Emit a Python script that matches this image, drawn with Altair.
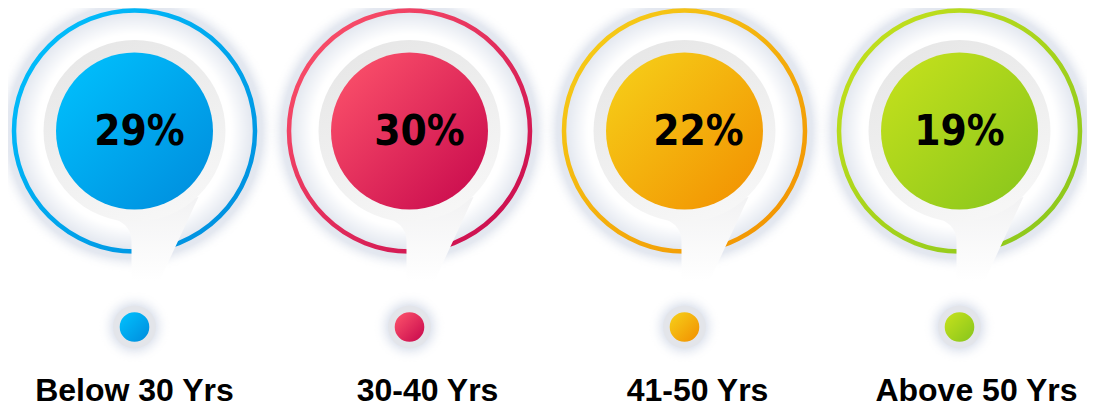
import altair as alt
import pandas as pd

# ---- data ----
categories = ["Below 30 Yrs", "30-40 Yrs", "41-50 Yrs", "Above 50 Yrs"]
percents = [29, 30, 22, 19]
light_colors = ["#00c3ff", "#ff566c", "#f6d21a", "#c8e21c"]
dark_colors = ["#008bdc", "#c6064c", "#f28e00", "#86c51c"]

# style offsets (text nudges, px)
pct_dx = [5, 10, 14, 0]
label_dx = [0, 18, 13, 17]

df = pd.DataFrame({
    "idx": list(range(len(categories))),
    "label": categories,
    "pct": [f"{p}%" for p in percents],
})

W, H = 1079, 399
xscale = alt.Scale(domain=[-126.5 / 275, (W - 126.5) / 275], nice=False, zero=False)
X = alt.X("idx:Q", scale=xscale, axis=None)

CY = 123     # big circle center (px)
DY = 319     # small dot center (px)
LY = 393     # label baseline (px)


def sz(r):
    return (2 * r) ** 2


def lin(c1, c2, x1=0, y1=0, x2=1, y2=1):
    return alt.LinearGradient(
        gradient="linear",
        stops=[alt.GradientStop(color=c1, offset=0), alt.GradientStop(color=c2, offset=1)],
        x1=x1, y1=y1, x2=x2, y2=y2,
    )


def radial(stops):
    return alt.RadialGradient(
        gradient="radial",
        stops=[alt.GradientStop(color=c, offset=o) for o, c in stops],
        x1=0.5, y1=0.5, r1=0, x2=0.5, y2=0.5, r2=0.5,
    )


base = alt.Chart(df)

glow = radial([(0, "#ffffff"), (0.68, "#ffffff"), (0.85, "#e0e5ee"),
               (0.90, "#e4e8f0"), (1.0, "rgba(255,255,255,0)")])
dot_glow = radial([(0, "#ffffff"), (0.5, "#dde2ec"), (0.62, "#e6eaf2"),
                   (1.0, "rgba(255,255,255,0)")])
gray_fill = lin("#e7e7e7", "#f7f7f7", 0.3, 0, 0.7, 1)
tail_fill = lin("#f2f2f3", "#ffffff", 0, 0, 0, 1)
tail_path = ("M -0.32 0.84 Q -0.03 0.9 -0.03 1.1 L -0.03 1.5 L 0.25 1.5 "
             "L 0.64 0.66 Z")

layers_glow, layers_ring, layers_tail, layers_gray, layers_disk = [], [], [], [], []
layers_pct, layers_dotglow, layers_halo, layers_dot, layers_lab = [], [], [], [], []

for i in range(len(categories)):
    b = base.transform_filter(alt.datum.idx == i)
    grad = lin(light_colors[i], dark_colors[i])
    layers_glow.append(
        b.mark_point(shape="circle", filled=True, fill=glow, strokeWidth=0, opacity=1, size=sz(142))
        .encode(x=X, y=alt.value(CY)))
    layers_ring.append(
        b.mark_point(shape="circle", filled=False, fill="transparent",
                     stroke=grad, strokeWidth=4.5, opacity=1, size=sz(120.5))
        .encode(x=X, y=alt.value(CY)))
    layers_tail.append(
        b.mark_point(shape=tail_path, filled=True, fill=tail_fill, strokeWidth=0,
                     opacity=1, size=sz(100))
        .encode(x=X, y=alt.value(CY)))
    layers_gray.append(
        b.mark_point(shape="circle", filled=True, fill=gray_fill, strokeWidth=0,
                     opacity=1, size=sz(91))
        .encode(x=X, y=alt.value(CY)))
    layers_disk.append(
        b.mark_point(shape="circle", filled=True, fill=grad,
                     strokeWidth=0, opacity=1, size=sz(78.5))
        .encode(x=X, y=alt.value(CY)))
    layers_pct.append(
        b.mark_text(font="DejaVu Sans Condensed", fontWeight="bold", fontSize=42,
                    color="#000000", baseline="alphabetic", align="center", dx=pct_dx[i])
        .encode(x=X, y=alt.value(CY + 14), text="pct:N"))
    layers_dotglow.append(
        b.mark_point(shape="circle", filled=True, fill=dot_glow, strokeWidth=0,
                     opacity=1, size=sz(36))
        .encode(x=X, y=alt.value(DY)))
    layers_halo.append(
        b.mark_point(shape="circle", filled=True, fill="#e3e5ea", strokeWidth=0,
                     opacity=1, size=sz(21.5))
        .encode(x=X, y=alt.value(DY)))
    layers_dot.append(
        b.mark_point(shape="circle", filled=True, fill=grad,
                     strokeWidth=0, opacity=1, size=sz(14.8))
        .encode(x=X, y=alt.value(DY)))
    layers_lab.append(
        b.mark_text(font="Liberation Sans", fontWeight="bold", fontSize=32,
                    color="#000000", baseline="alphabetic", align="center", dx=label_dx[i])
        .encode(x=X, y=alt.value(LY), text="label:N"))

chart = alt.layer(
    *(layers_glow + layers_ring + layers_tail + layers_gray + layers_disk + layers_pct
      + layers_dotglow + layers_halo + layers_dot + layers_lab)
).properties(
    width=W, height=H, padding=0, autosize=alt.AutoSizeParams(type="none"),
    background="#ffffff",
).configure_view(stroke=None)

chart.save("out.html", embed_options={"renderer": "svg", "actions": False})
